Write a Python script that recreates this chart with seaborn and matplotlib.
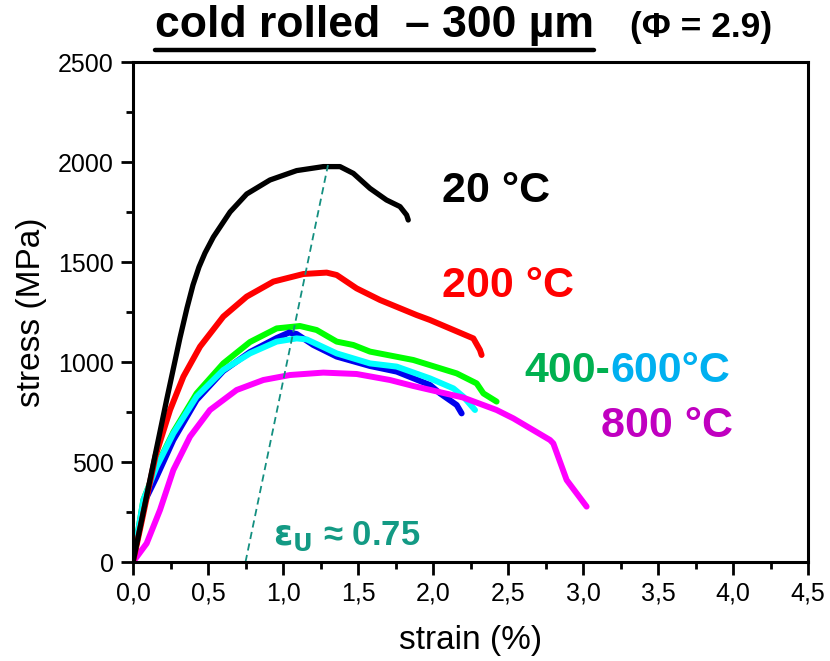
import matplotlib
matplotlib.use("Agg")
import matplotlib.pyplot as plt
import matplotlib.ticker as mticker
import pandas as pd
import seaborn as sns

# Engineering stress-strain curves, cold rolled 300 µm wire, tested at several temperatures
strain_20 = [0.0, 0.113, 0.224, 0.313, 0.36, 0.40, 0.44, 0.48, 0.536, 0.647, 0.758, 0.913,
             1.091, 1.269, 1.38, 1.469, 1.58, 1.69, 1.78, 1.824, 1.835]
stress_20 = [0, 410, 810, 1120, 1270, 1385, 1475, 1545, 1625, 1750, 1840, 1910,
             1957, 1977, 1977, 1943, 1868, 1810, 1777, 1735, 1710]

strain_200 = [0.0, 0.06, 0.15, 0.247, 0.336, 0.447, 0.602, 0.758, 0.936, 1.136, 1.291,
              1.358, 1.491, 1.647, 1.89, 1.98, 2.269, 2.313, 2.324]
stress_200 = [0, 210, 530, 760, 927, 1077, 1227, 1327, 1402, 1440, 1447,
              1435, 1368, 1310, 1235, 1210, 1118, 1060, 1035]

strain_400 = [0.0, 0.069, 0.158, 0.269, 0.424, 0.602, 0.78, 0.958, 1.113, 1.224, 1.358,
              1.469, 1.58, 1.869, 2.158, 2.291, 2.336, 2.424]
stress_400 = [0, 310, 480, 650, 843, 993, 1100, 1168, 1180, 1160, 1102,
              1085, 1052, 1010, 943, 893, 843, 802]

strain_500 = [0.0, 0.069, 0.158, 0.269, 0.424, 0.602, 0.78, 0.958, 1.04, 1.091, 1.202,
              1.358, 1.58, 1.758, 1.98, 2.047, 2.158, 2.191]
stress_500 = [0, 290, 427, 610, 810, 955, 1050, 1120, 1147, 1140, 1085,
              1027, 980, 952, 885, 843, 785, 743]

strain_600 = [0.0, 0.069, 0.158, 0.269, 0.424, 0.602, 0.78, 0.958, 1.091, 1.158, 1.224,
              1.358, 1.58, 1.758, 1.98, 2.136, 2.202, 2.28]
stress_600 = [0, 310, 477, 643, 827, 960, 1043, 1102, 1118, 1113, 1090,
              1043, 993, 977, 918, 868, 827, 760]

strain_800 = [0.0, 0.091, 0.18, 0.269, 0.38, 0.513, 0.691, 0.869, 1.047, 1.269, 1.491,
              1.713, 1.869, 2.202, 2.424, 2.536, 2.78, 2.802, 2.891, 3.024]
stress_800 = [0, 93, 260, 460, 627, 760, 860, 910, 935, 947, 940,
              910, 880, 822, 760, 718, 610, 593, 410, 277]

# Uniform-elongation guide line
guide_strain = [0.75, 1.30]
guide_stress = [0, 1985]

x_ticks = [0.0, 0.5, 1.0, 1.5, 2.0, 2.5, 3.0, 3.5, 4.0, 4.5]
x_tick_labels = ["0,0", "0,5", "1,0", "1,5", "2,0", "2,5", "3,0", "3,5", "4,0", "4,5"]
y_ticks = [0, 500, 1000, 1500, 2000, 2500]

series = [
    ("400 °C", strain_400, stress_400, "#00ff00", 4.3),
    ("500 °C", strain_500, stress_500, "#0000ee", 4.3),
    ("600 °C", strain_600, stress_600, "#00ffff", 4.3),
    ("800 °C", strain_800, stress_800, "#ff00ff", 4.3),
    ("200 °C", strain_200, stress_200, "#ff0000", 4.3),
    ("20 °C", strain_20, stress_20, "#000000", 3.8),
]

frames = []
for name, xs, ys, _, _ in series:
    frames.append(pd.DataFrame({"strain": xs, "stress": ys, "T": name}))
df = pd.concat(frames, ignore_index=True)

sns.set_theme(style="ticks")
plt.rcParams["font.family"] = ["Liberation Sans", "DejaVu Sans"]

fig = plt.figure(figsize=(8.3, 6.61), dpi=100)
ax = fig.add_axes([133 / 830, 1 - 562 / 661, 675 / 830, 500 / 661])

for name, _, _, color, lw in series:
    sns.lineplot(data=df[df["T"] == name], x="strain", y="stress", color=color,
                 linewidth=lw, sort=False, ax=ax, legend=False,
                 solid_capstyle="round", solid_joinstyle="round")

sns.lineplot(x=guide_strain, y=guide_stress, color="#138f80", linewidth=1.3,
             linestyle=(0, (4, 2.5)), ax=ax)

ax.set_xlim(0, 4.5)
ax.set_ylim(0, 2500)
ax.set_xticks(x_ticks)
ax.set_xticklabels(x_tick_labels)
ax.set_yticks(y_ticks)
ax.xaxis.set_minor_locator(mticker.MultipleLocator(0.25))
ax.yaxis.set_minor_locator(mticker.MultipleLocator(250))
ax.tick_params(which="major", direction="out", length=9, width=2, labelsize=18,
               pad=5, color="black", labelcolor="black")
ax.tick_params(which="minor", direction="out", length=5, width=2, color="black")
for sp in ax.spines.values():
    sp.set_linewidth(2.2)
    sp.set_color("black")
    sp.set_visible(True)

ax.set_xlabel("strain (%)", fontsize=24, labelpad=14, color="black")
ax.set_ylabel("stress (MPa)", fontsize=24, labelpad=8, color="black")

# Curve annotations
bold = dict(fontweight="bold", fontsize=31, ha="left", va="baseline")
ax.text(2.06, 1800, "20 °C", color="black", **bold)
ax.text(2.06, 1325, "200 °C", color="#ff0000", **bold)
t1 = ax.text(2.61, 900, "400-", color="#00b050", **bold)
ax.annotate("600°C", xycoords=t1, xy=(1, 0), va="bottom", ha="left",
            color="#00b0f0", fontweight="bold", fontsize=31)
ax.text(3.12, 625, "800 °C", color="#c000c0", **bold)
ax.text(0.93, 85, r"$\mathbf{\varepsilon_{U}}$" + " ≈ 0.75", color="#139a84",
        fontsize=25, fontweight="bold", ha="left", va="baseline")

# Title with underline
title = fig.text(155 / 830, 1 - 37 / 661, "cold rolled  – 300 µm", fontsize=32,
                 fontweight="bold", ha="left", va="baseline", color="black")
fig.text(630 / 830, 1 - 37 / 661, "(Φ = 2.9)", fontsize=25.5, fontweight="bold",
         ha="left", va="baseline", color="black")
fig.canvas.draw()
bb = title.get_window_extent()
y_ul = 1 - 50 / 661
fig.add_artist(plt.Line2D([bb.x0 / fig.bbox.width, bb.x1 / fig.bbox.width], [y_ul, y_ul],
                          transform=fig.transFigure, color="black", linewidth=3.2))

fig.savefig("out.png", dpi=100)
